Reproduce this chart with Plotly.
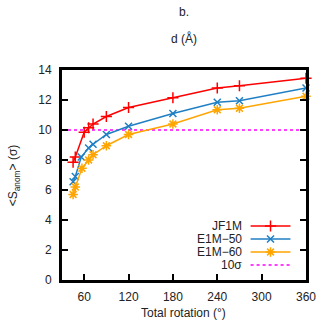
import plotly.graph_objects as go

# ---- data ----
jf1m_x = [45, 48, 60, 66, 72, 90, 120, 180, 240, 270, 360]
jf1m_y = [7.85, 8.2, 9.85, 10.15, 10.4, 10.9, 11.5, 12.15, 12.8, 12.95, 13.45]
e50_x = [45, 48, 56, 66, 72, 90, 120, 180, 240, 270, 360]
e50_y = [6.55, 6.9, 8.2, 8.8, 9.05, 9.7, 10.25, 11.1, 11.85, 11.95, 12.8]
e60_x = [45, 48, 57, 66, 72, 90, 120, 180, 240, 270, 360]
e60_y = [5.7, 6.2, 7.45, 8.0, 8.35, 8.95, 9.7, 10.4, 11.35, 11.45, 12.25]
threshold = 10
x_range = [30, 360]
y_range = [0, 14]
x_ticks = [60, 120, 180, 240, 300, 360]
y_ticks = [0, 2, 4, 6, 8, 10, 12, 14]
series_names = ["JF1M", "E1M\u221250", "E1M\u221260", "10\u03c3"]

RED = "#ff0000"
BLUE = "#1f7fc4"
ORANGE = "#ffa500"
MAG = "#ff00ff"
FONT = "Liberation Sans, Arial, sans-serif"

fig = go.Figure()

fig.add_trace(go.Scatter(x=x_range, y=[threshold, threshold], mode="lines",
                         line=dict(color=MAG, width=1.5, dash="3px,3px"),
                         showlegend=False, hoverinfo="skip"))

series = [
    (jf1m_x, jf1m_y, RED, "cross-thin", 8),
    (e50_x, e50_y, BLUE, "x-thin", 7),
    (e60_x, e60_y, ORANGE, "asterisk", 8),
]
for xs, ys, col, sym, sz in series:
    fig.add_trace(go.Scatter(x=xs, y=ys, mode="lines+markers",
                             line=dict(color=col, width=1.5),
                             marker=dict(symbol=sym, size=sz, color=col,
                                         line=dict(color=col, width=1.5)),
                             showlegend=False, cliponaxis=False))

# ---- custom legend (symbol on right, gnuplot style) on a helper axis ----
W0, W1, H0, H1 = 62, 313, 70, 280
def px_x(p): return (p - W0) / (W1 - W0)
def px_y(p): return (H1 - p) / (H1 - H0)

leg_rows = [226, 239, 252, 265]
leg_styles = [(RED, "cross-thin", 8, "solid"), (BLUE, "x-thin", 7, "solid"),
              (ORANGE, "asterisk", 8, "solid"), (MAG, None, 0, "3px,3px")]
annotations = []
for name, row, (col, sym, sz, dash) in zip(series_names, leg_rows, leg_styles):
    yy = px_y(row)
    fig.add_trace(go.Scatter(x=[px_x(256), px_x(297)], y=[yy, yy], mode="lines",
                             line=dict(color=col, width=1.5, dash=dash),
                             xaxis="x2", yaxis="y2", showlegend=False, hoverinfo="skip"))
    if sym:
        fig.add_trace(go.Scatter(x=[px_x(276.5)], y=[yy], mode="markers",
                                 marker=dict(symbol=sym, size=sz, color=col,
                                             line=dict(color=col, width=1.5)),
                                 xaxis="x2", yaxis="y2", showlegend=False, hoverinfo="skip"))
    annotations.append(dict(x=px_x(249), y=yy, xref="paper", yref="paper",
                            text=name, showarrow=False, xanchor="right", yanchor="middle",
                            font=dict(family=FONT, size=12, color="#222")))

annotations += [
    dict(x=px_x(187), y=px_y(12), xref="paper", yref="paper", text="b.", showarrow=False,
         xanchor="center", yanchor="middle", font=dict(family=FONT, size=12, color="#222")),
    dict(x=px_x(187), y=px_y(38), xref="paper", yref="paper", text="d (\u00c5)", showarrow=False,
         xanchor="center", yanchor="middle", font=dict(family=FONT, size=12, color="#222")),
    dict(x=px_x(187), y=px_y(313), xref="paper", yref="paper", text="Total rotation (\u00b0)",
         showarrow=False, xanchor="center", yanchor="middle",
         font=dict(family=FONT, size=12, color="#222")),
    dict(x=px_x(13), y=px_y(175), xref="paper", yref="paper",
         text="&lt;S<sub>anom</sub>&gt; (\u03c3)", showarrow=False, textangle=-90,
         xanchor="center", yanchor="middle", font=dict(family=FONT, size=12, color="#222")),
]

axis_common = dict(showgrid=False, zeroline=False, showline=True, linecolor="black",
                   linewidth=3, ticks="inside", ticklen=6, tickwidth=1.5, tickcolor="black",
                   tickfont=dict(family=FONT, size=12, color="#222"))

fig.update_layout(
    width=328, height=322,
    margin=dict(l=W0, r=328 - W1, t=H0, b=322 - H1),
    paper_bgcolor="white", plot_bgcolor="white",
    xaxis=dict(range=x_range, tickvals=x_ticks, mirror=True, ticklabelstandoff=4,
               **axis_common),
    yaxis=dict(range=y_range, tickvals=y_ticks, mirror="ticks", ticklabelstandoff=5,
               **axis_common),
    xaxis2=dict(range=[0, 1], overlaying="x", visible=False),
    yaxis2=dict(range=[0, 1], overlaying="y", visible=False),
    annotations=annotations,
    showlegend=False,
)

fig.write_html("out.html")
